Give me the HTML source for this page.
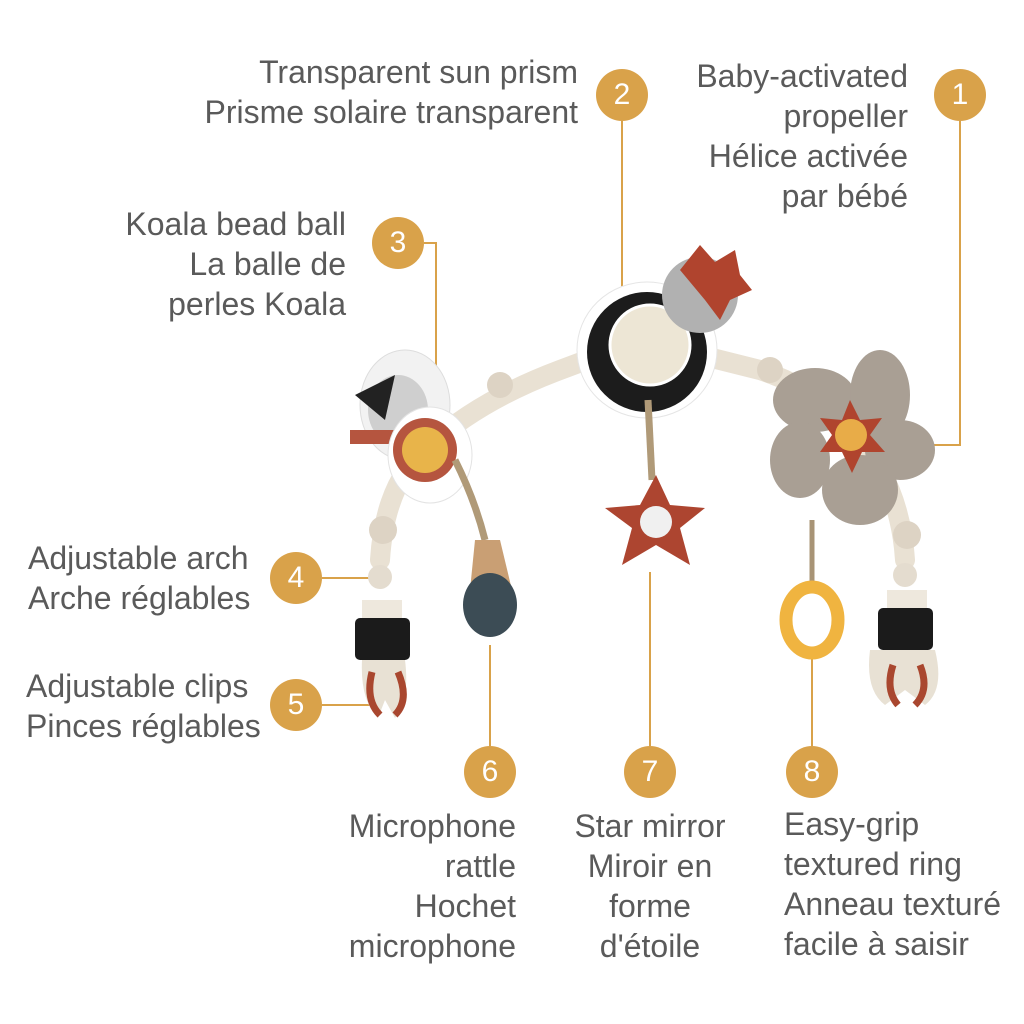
<!DOCTYPE html>
<html><head><meta charset="utf-8"><style>
html,body{margin:0;padding:0;background:#fff}
body{width:1024px;height:1024px;position:relative;overflow:hidden;font-family:"Liberation Sans",sans-serif;color:#5a5a5a}
.t{position:absolute;font-size:32px;line-height:40px;white-space:nowrap}
.r{text-align:right}
.b{position:absolute;width:52px;height:52px;border-radius:50%;background:#d9a24a;color:#fff;font-size:30px;line-height:52px;text-align:center}
</style></head><body>
<svg width="1024" height="1024" style="position:absolute;left:0;top:0">
<g stroke="#d9a24a" stroke-width="2" fill="none">
<polyline points="960,121 960,445 905,445"/>
<line x1="622" y1="121" x2="622" y2="340"/>
<polyline points="424,243 436,243 436,430"/>
<line x1="322" y1="578" x2="378" y2="578"/>
<line x1="322" y1="705" x2="370" y2="705"/>
<line x1="490" y1="746" x2="490" y2="645"/>
<line x1="650" y1="746" x2="650" y2="572"/>
<line x1="812" y1="746" x2="812" y2="655"/>
</g>
<path d="M380,560 Q385,480 430,445 Q480,400 560,370 L600,355 M700,355 L760,370 Q820,390 850,430 Q900,480 905,560" stroke="#e9e1d3" stroke-width="20" fill="none" stroke-linecap="round"/>
<circle cx="500" cy="385" r="13" fill="#ddd3c4"/><circle cx="770" cy="370" r="13" fill="#ddd3c4"/>
<circle cx="383" cy="530" r="14" fill="#ddd3c4"/><circle cx="907" cy="535" r="14" fill="#ddd3c4"/>
<circle cx="380" cy="577" r="12" fill="#e4dccf"/><circle cx="905" cy="575" r="12" fill="#e4dccf"/>
<ellipse cx="405" cy="405" rx="45" ry="55" fill="#f2f2f2" stroke="#ddd"/>
<ellipse cx="398" cy="410" rx="30" ry="35" fill="#cfcfcf"/>
<path d="M355,395 L395,375 L385,420 Z" fill="#222"/>
<rect x="350" y="430" width="50" height="14" fill="#b5553f"/>
<ellipse cx="430" cy="455" rx="42" ry="48" fill="#fff" stroke="#e3e3e3"/>
<circle cx="425" cy="450" r="32" fill="#b5553f"/>
<circle cx="425" cy="450" r="23" fill="#e8b44a"/>
<ellipse cx="647" cy="350" rx="70" ry="68" fill="#fff" stroke="#e5e5e5"/>
<ellipse cx="647" cy="352" rx="60" ry="60" fill="#1c1c1c"/>
<circle cx="650" cy="345" r="40" fill="#ede6d5" stroke="#fff" stroke-width="3"/>
<circle cx="700" cy="295" r="38" fill="#b1b1b1"/>
<path d="M680,270 L700,245 L715,262 L735,250 L740,275 L752,290 L730,300 L720,320 L705,300 Z" fill="#b0442e"/>
<g fill="#a99f94">
<ellipse cx="815" cy="400" rx="42" ry="32"/><ellipse cx="880" cy="395" rx="30" ry="45"/>
<ellipse cx="900" cy="450" rx="35" ry="30"/><ellipse cx="860" cy="490" rx="38" ry="35"/>
<ellipse cx="800" cy="460" rx="30" ry="38"/>
</g>
<polygon points="850,400 860,420 882,418 870,435 885,452 862,452 852,473 842,452 820,452 832,435 820,418 842,420" fill="#b0442e"/>
<circle cx="851" cy="435" r="16" fill="#e8ac48"/>
<line x1="648" y1="400" x2="652" y2="480" stroke="#b09a78" stroke-width="7"/>
<polygon points="656,475 670,505 705,508 680,528 690,565 656,545 622,565 632,528 605,508 640,505" fill="#ad4530"/>
<circle cx="656" cy="522" r="16" fill="#f0f0f0"/>
<path d="M455,460 Q475,500 485,540" stroke="#b09a78" stroke-width="7" fill="none"/>
<path d="M475,540 L500,540 L512,590 L470,590 Z" fill="#c99f74"/>
<ellipse cx="490" cy="605" rx="27" ry="32" fill="#3c4c55"/>
<line x1="812" y1="520" x2="812" y2="590" stroke="#a89476" stroke-width="5"/>
<ellipse cx="812" cy="620" rx="26" ry="33" fill="none" stroke="#f0b440" stroke-width="13"/>
<rect x="362" y="600" width="40" height="18" fill="#eee8dd"/>
<rect x="355" y="618" width="55" height="42" rx="5" fill="#1b1b1b"/>
<path d="M362,660 L405,660 Q410,700 395,718 L385,700 L378,718 Q360,700 362,660Z" fill="#e8e1d4"/>
<path d="M372,672 Q365,700 380,715 M398,672 Q410,700 395,715" stroke="#a9472f" stroke-width="7" fill="none"/>
<rect x="887" y="590" width="40" height="18" fill="#eee8dd"/>
<rect x="878" y="608" width="55" height="42" rx="5" fill="#1b1b1b"/>
<path d="M870,650 L935,650 Q945,690 925,705 L905,690 L885,705 Q865,690 870,650Z" fill="#e8e1d4"/>
<path d="M893,665 Q885,690 898,705 M920,665 Q930,690 915,705" stroke="#a9472f" stroke-width="7" fill="none"/>
</svg>
<div class="t r" style="right:446px;top:52px">Transparent sun prism<br>Prisme solaire transparent</div>
<div class="t r" style="right:116px;top:56px">Baby-activated<br>propeller<br>Hélice activée<br>par bébé</div>
<div class="t r" style="right:678px;top:204px">Koala bead ball<br>La balle de<br>perles Koala</div>
<div class="t" style="left:28px;top:538px">Adjustable arch<br>Arche réglables</div>
<div class="t" style="left:26px;top:666px">Adjustable clips<br>Pinces réglables</div>
<div class="t r" style="right:508px;top:806px">Microphone<br>rattle<br>Hochet<br>microphone</div>
<div class="t" style="left:562px;top:806px;width:176px;text-align:center">Star mirror<br>Miroir en<br>forme<br>d'étoile</div>
<div class="t" style="left:784px;top:804px">Easy-grip<br>textured ring<br>Anneau texturé<br>facile à saisir</div>
<div class="b" style="left:934px;top:69px">1</div>
<div class="b" style="left:596px;top:69px">2</div>
<div class="b" style="left:372px;top:217px">3</div>
<div class="b" style="left:270px;top:552px">4</div>
<div class="b" style="left:270px;top:679px">5</div>
<div class="b" style="left:464px;top:746px">6</div>
<div class="b" style="left:624px;top:746px">7</div>
<div class="b" style="left:786px;top:746px">8</div>
</body></html>
